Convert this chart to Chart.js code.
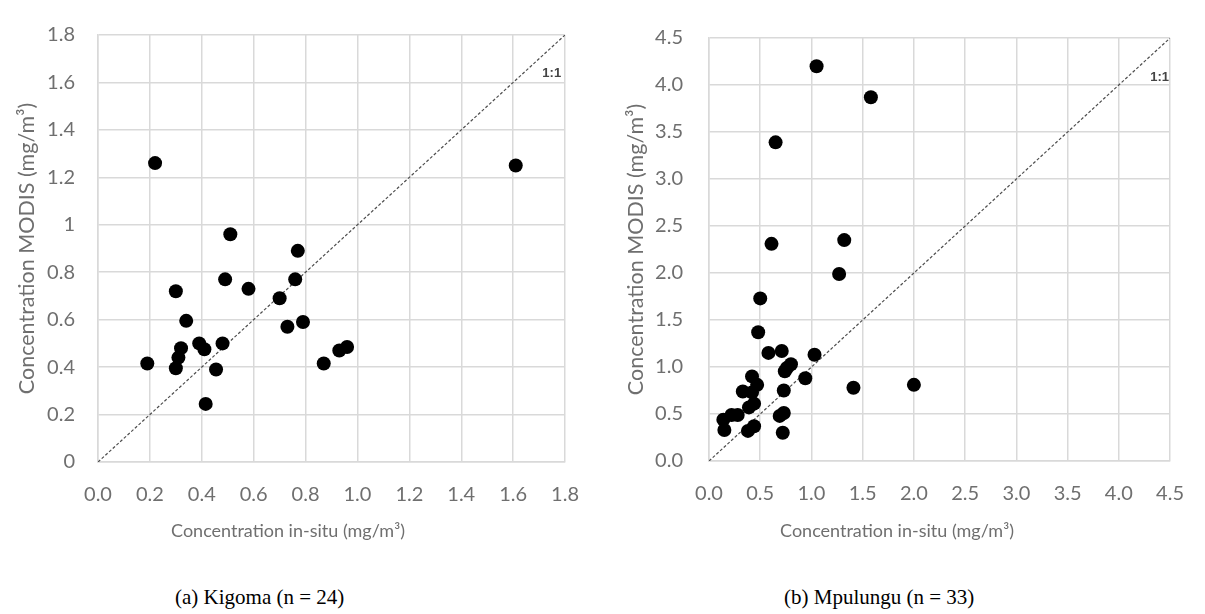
<!DOCTYPE html>
<html>
<head>
<meta charset="utf-8">
<script src="https://cdn.jsdelivr.net/npm/chart.js@4.4.1/dist/chart.umd.min.js"></script>
<style>
  body { margin: 0; background: #fff; width: 1205px; height: 614px; position: relative; overflow: hidden; }
  .panel { position: absolute; top: 0; height: 560px; }
  .caption { position: absolute; top: 585px; font: 21px "Liberation Serif", serif; color: #000; white-space: pre; }
</style>
</head>
<body>
<div class="panel" style="left:0;width:600px"><canvas id="kigomaChart" width="600" height="560"></canvas></div>
<div class="panel" style="left:600px;width:605px"><canvas id="mpulunguChart" width="605" height="560"></canvas></div>
<div class="caption" style="left:175px">(a) Kigoma (n = 24)</div>
<div class="caption" style="left:784px">(b) Mpulungu (n = 33)</div>

<script>
// ---------- Kigoma: in-situ vs MODIS chlorophyll (mg/m3) ----------
const kigomaInSitu = [0.22, 1.61, 0.51, 0.77, 0.49, 0.76, 0.58, 0.30, 0.70, 0.34, 0.73, 0.79,
  0.32, 0.31, 0.30, 0.19, 0.39, 0.41, 0.48, 0.455, 0.415, 0.87, 0.93, 0.96];
const kigomaModis = [1.26, 1.25, 0.96, 0.89, 0.77, 0.77, 0.73, 0.72, 0.69, 0.595, 0.57, 0.59,
  0.48, 0.44, 0.395, 0.415, 0.50, 0.475, 0.50, 0.39, 0.245, 0.415, 0.47, 0.485];

// ---------- Mpulungu ----------
const mpulunguInSitu = [1.05, 1.58, 0.65, 0.61, 1.32, 1.27, 0.50, 0.48, 0.58, 0.71, 1.03, 0.80,
  0.74, 0.94, 0.42, 0.47, 0.33, 0.73, 1.41, 2.00, 0.39, 0.44, 0.14, 0.22, 0.28, 0.15,
  0.38, 0.44, 0.69, 0.73, 0.72, 0.42, 0.76];
const mpulunguModis = [4.20, 3.87, 3.39, 2.31, 2.35, 1.99, 1.73, 1.37, 1.15, 1.17, 1.13, 1.03,
  0.955, 0.88, 0.90, 0.81, 0.74, 0.75, 0.78, 0.81, 0.57, 0.61, 0.44, 0.49, 0.49, 0.33,
  0.32, 0.37, 0.48, 0.51, 0.30, 0.73, 0.99];

// ---------- Axis ticks ----------
const kigomaXTicks = [0, 0.2, 0.4, 0.6, 0.8, 1.0, 1.2, 1.4, 1.6, 1.8];
const kigomaXLabels = ['0.0', '0.2', '0.4', '0.6', '0.8', '1.0', '1.2', '1.4', '1.6', '1.8'];
const kigomaYTicks = [0, 0.2, 0.4, 0.6, 0.8, 1.0, 1.2, 1.4, 1.6, 1.8];
const kigomaYLabels = ['0', '0.2', '0.4', '0.6', '0.8', '1', '1.2', '1.4', '1.6', '1.8'];

const mpulunguXTicks = [0, 0.5, 1.0, 1.5, 2.0, 2.5, 3.0, 3.5, 4.0, 4.5];
const mpulunguXLabels = ['0.0', '0.5', '1.0', '1.5', '2.0', '2.5', '3.0', '3.5', '4.0', '4.5'];
const mpulunguYTicks = mpulunguXTicks;
const mpulunguYLabels = mpulunguXLabels;

// 1:1 reference line end points
const kigomaOneToOne = [0, 1.8];
const mpulunguOneToOne = [0, 4.5];

const xTitle = 'Concentration in-situ (mg/m\u00b3)';
const yTitle = 'Concentration MODIS (mg/m\u00b3)';

const TEXT_GREY = '#6f6f6f';
const GRID_GREY = '#d9d9d9';

// ---------- "1:1" tag next to the diagonal + x title centred on the whole panel ----------
const panelText = {
  id: 'panelText',
  afterDraw(chart, args, opts) {
    const { ctx, scales: { x, y } } = chart;
    ctx.save();
    ctx.font = 'bold 13px "Liberation Sans", sans-serif';
    ctx.fillStyle = '#444';
    ctx.textAlign = 'right';
    ctx.textBaseline = 'middle';
    ctx.fillText('1:1', x.getPixelForValue(opts.tagX), y.getPixelForValue(opts.tagY));

    ctx.font = '18px Lato, sans-serif';
    ctx.fillStyle = TEXT_GREY;
    ctx.textAlign = 'center';
    ctx.fillText(xTitle, opts.titleX, opts.titleY);
    ctx.restore();
  }
};

function toPoints(xs, ys) {
  return xs.map((v, i) => ({ x: v, y: ys[i] }));
}

function fixedTicks(values) {
  return scale => { scale.ticks = values.map(v => ({ value: v })); };
}

function buildScatter(canvasId, p) {
  const ctx = document.getElementById(canvasId).getContext('2d');
  return new Chart(ctx, {
    type: 'scatter',
    data: {
      datasets: [
        {
          data: toPoints(p.xs, p.ys),
          backgroundColor: '#000',
          borderColor: '#000',
          borderWidth: 0,
          pointRadius: 7,
          order: 1
        },
        {
          type: 'line',
          data: toPoints(p.diag, p.diag),
          borderColor: '#4d4d4d',
          borderWidth: 1.2,
          borderDash: [3, 2],
          pointRadius: 0,
          fill: false,
          order: 2
        }
      ]
    },
    options: {
      responsive: false,
      animation: false,
      devicePixelRatio: 1,
      layout: { padding: { top: p.padTop, right: p.padRight, bottom: 0, left: 0 } },
      plugins: {
        legend: { display: false },
        tooltip: { enabled: false },
        panelText: p.text
      },
      scales: {
        x: {
          type: 'linear',
          min: p.xTicks[0],
          max: p.xTicks[p.xTicks.length - 1],
          afterBuildTicks: fixedTicks(p.xTicks),
          afterFit: s => { s.height = p.xAxisHeight; },
          grid: { color: GRID_GREY, lineWidth: 1.5, drawTicks: false },
          border: { color: GRID_GREY, width: 1.5 },
          ticks: {
            padding: 21,
            color: TEXT_GREY,
            font: { family: 'Lato', size: 20 },
            callback: (v, i) => p.xLabels[i]
          }
        },
        y: {
          type: 'linear',
          min: p.yTicks[0],
          max: p.yTicks[p.yTicks.length - 1],
          afterBuildTicks: fixedTicks(p.yTicks),
          afterFit: s => { s.width = p.yAxisWidth; },
          grid: { color: GRID_GREY, lineWidth: 1.5, drawTicks: false },
          border: { color: GRID_GREY, width: 1.5 },
          ticks: {
            padding: p.yTickPad,
            color: TEXT_GREY,
            font: { family: 'Lato', size: 20 },
            callback: (v, i) => p.yLabels[i]
          },
          title: {
            display: true,
            text: yTitle,
            color: TEXT_GREY,
            font: { family: 'Lato', size: 21.5 },
            padding: { top: p.yTitlePad, bottom: 0 }
          }
        }
      }
    },
    plugins: [panelText]
  });
}

buildScatter('kigomaChart', {
  xs: kigomaInSitu, ys: kigomaModis, diag: kigomaOneToOne,
  xTicks: kigomaXTicks, xLabels: kigomaXLabels,
  yTicks: kigomaYTicks, yLabels: kigomaYLabels,
  padTop: 22, padRight: 29, yAxisWidth: 98, xAxisHeight: 98,
  yTickPad: 23, yTitlePad: 14,
  text: { tagX: 1.785, tagY: 1.64, titleX: 288, titleY: 531 }
});

buildScatter('mpulunguChart', {
  xs: mpulunguInSitu, ys: mpulunguModis, diag: mpulunguOneToOne,
  xTicks: mpulunguXTicks, xLabels: mpulunguXLabels,
  yTicks: mpulunguYTicks, yLabels: mpulunguYLabels,
  padTop: 17, padRight: 25, yAxisWidth: 109, xAxisHeight: 99,
  yTickPad: 26, yTitlePad: 23,
  text: { tagX: 4.49, tagY: 4.08, titleX: 297, titleY: 531 }
});
</script>
</body>
</html>
